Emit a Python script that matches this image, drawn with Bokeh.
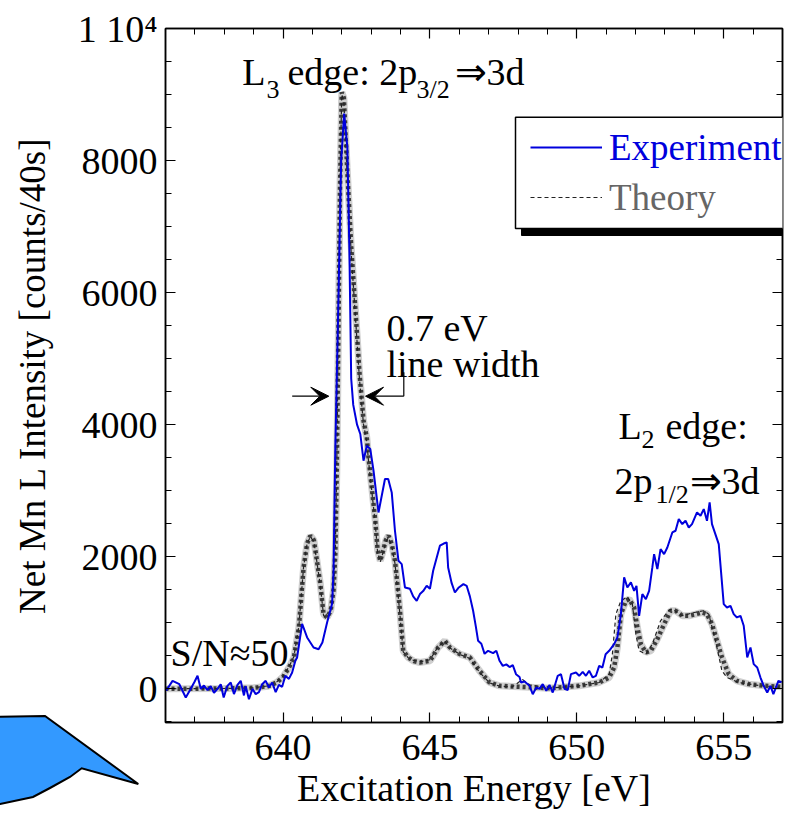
from bokeh.plotting import figure
from bokeh.layouts import column
from bokeh.models import (Range1d, LinearAxis, SingleIntervalTicker, Label, Arrow, VeeHead,
                          BoxAnnotation, Legend, LegendItem, CustomLabelingPolicy, Div)
from bokeh.embed import file_html
from bokeh.resources import INLINE

# ---------------- data ----------------
energy_exp = [636.02, 636.24, 636.47, 636.69, 636.86, 636.98, 637.09, 637.20, 637.31, 637.43,
              637.54, 637.65, 637.77, 637.88, 637.98, 638.10, 638.22, 638.33, 638.45, 638.56,
              638.67, 638.73, 638.84, 638.96, 639.07, 639.18, 639.29, 639.41, 639.52, 639.63,
              639.75, 639.86, 639.97, 640.08, 640.20, 640.31, 640.42, 640.48, 640.65, 640.82,
              641.04, 641.21, 641.34, 641.50, 641.67, 641.72, 641.78, 641.89, 641.98, 642.08,
              642.19, 642.26, 642.32, 642.39, 642.52, 642.63, 642.74, 642.85, 642.97, 643.08,
              643.25, 643.47, 643.58, 643.70, 643.81, 643.93, 644.04, 644.15, 644.32, 644.43,
              644.55, 644.66, 644.77, 644.89, 645.00, 645.11, 645.34, 645.47, 645.57, 645.62,
              645.74, 645.85, 645.97, 646.14, 646.25, 646.36, 646.47, 646.56, 646.64, 646.75,
              646.86, 646.98, 647.15, 647.26, 647.37, 647.48, 647.60, 647.71, 647.82, 647.93,
              648.05, 648.10, 648.22, 648.39, 648.50, 648.62, 648.73, 648.84, 648.96, 649.07,
              649.18, 649.35, 649.46, 649.58, 649.69, 649.80, 649.97, 650.08, 650.20, 650.31,
              650.42, 650.54, 650.65, 650.76, 650.87, 650.98, 651.10, 651.27, 651.38, 651.44,
              651.50, 651.61, 651.72, 651.84, 651.95, 652.03, 652.12, 652.23, 652.35, 652.46,
              652.57, 652.63, 652.74, 652.85, 652.97, 653.08, 653.25, 653.36, 653.47, 653.59,
              653.70, 653.81, 653.92, 654.09, 654.21, 654.32, 654.43, 654.52, 654.60, 654.83,
              655.00, 655.11, 655.23, 655.34, 655.45, 655.57, 655.68, 655.80, 655.91, 656.02,
              656.14, 656.25, 656.36, 656.48, 656.59, 656.69, 656.86, 656.97]
counts_exp = [-30, 121, 70, -131, 0, 100, 197, 0, 50, -20,
              40, -60, 0, 70, -131, 40, 96, -80, 60, 121,
              -100, 40, -157, 0, -80, -50, 70, 121, 20, 96,
              -50, 60, 30, 197, 150, 247, 424, 475, 985, 778,
              626, 600, 700, 1005, 1288, 1800, 3650, 6000, 8000, 8712,
              8200, 6600, 4700, 4300, 4000, 3859, 3455, 3682, 3631, 3303,
              2671, 3177, 3177, 2974, 2394, 1939, 1889, 1535, 1515, 1400,
              1333, 1435, 1480, 1560, 1515, 1788, 2167, 2200, 2217, 1838,
              1600, 1459, 1530, 1586, 1560, 1400, 1182, 950, 727, 682,
              530, 576, 540, 576, 424, 348, 370, 330, 360, 222,
              180, 96, 110, 45, -81, 20, 0, 71, -30, 60,
              -56, 197, 222, 0, -20, 222, 247, 197, 257, 197,
              273, 172, 197, 348, 323, 525, 576, 677, 778, 950,
              1131, 1687, 1535, 1611, 1485, 1560, 1106, 1434, 1359, 1485,
              1838, 2040, 1813, 2116, 2040, 2141, 2368, 2394, 2571, 2495,
              2545, 2444, 2495, 2672, 2621, 2722, 2545, 2823, 2495, 2192,
              1283, 1232, 1257, 1131, 1081, 1106, 955, 475, 626, 374,
              323, 171, 45, -56, 45, -81, 121, 100]

energy_theory_broad = [636.0, 638.0, 639.0, 639.5, 639.8, 640.0, 640.2, 640.37, 640.54, 640.7,
                       640.82, 640.93, 641.05, 641.15, 641.27, 641.38, 641.5, 641.62, 641.72, 641.78,
                       641.83, 641.88, 641.94, 642.0, 642.07, 642.18, 642.32, 642.47, 642.6, 642.74,
                       642.85, 642.91, 643.02, 643.14, 643.22, 643.31, 643.4, 643.5, 643.59, 643.7,
                       643.81, 643.9, 643.98, 644.09, 644.26, 644.45, 644.66, 645.0, 645.28, 645.51,
                       645.68, 646.02, 646.36, 646.69, 647.03, 647.37, 648.05, 649.07, 650.08, 650.76,
                       651.1, 651.27, 651.38, 651.5, 651.67, 651.78, 651.95, 652.06, 652.18, 652.35,
                       652.52, 652.74, 652.97, 653.19, 653.36, 653.59, 653.81, 654.04, 654.26, 654.43,
                       654.6, 654.77, 654.94, 655.17, 655.45, 655.85, 656.41, 657.0]
counts_theory_broad = [0, 5, 15, 40, 100, 180, 320, 475, 930, 1838,
                       2200, 2318, 2250, 1950, 1586, 1131, 1081, 1180, 1500, 2050,
                       3300, 5200, 7600, 9035, 8950, 7900, 6700, 5700, 4800, 4060,
                       3808, 3505, 3050, 2545, 2100, 1939, 2080, 2250, 2318, 2192,
                       1939, 1550, 1182, 576, 475, 420, 399, 424, 626, 727,
                       626, 525, 475, 272, 96, 45, 30, 10, 45, 96,
                       171, 323, 626, 1131, 1333, 1359, 1232, 929, 677, 550,
                       576, 753, 980, 1182, 1182, 1106, 1106, 1131, 1156, 1131,
                       980, 727, 475, 222, 121, 71, 45, 30]

energy_theory = [636.0, 638.0, 639.0, 639.5, 639.8, 640.0, 640.2, 640.37, 640.54, 640.7,
                 640.82, 640.93, 641.05, 641.15, 641.27, 641.38, 641.5, 641.62, 641.72, 641.78,
                 641.83, 641.88, 641.94, 642.0, 642.07, 642.18, 642.32, 642.47, 642.6, 642.74,
                 642.85, 642.91, 643.02, 643.14, 643.22, 643.31, 643.4, 643.5, 643.59, 643.7,
                 643.81, 643.9, 643.98, 644.09, 644.26, 644.45, 644.66, 645.0, 645.28, 645.51,
                 645.68, 646.02, 646.36, 646.69, 647.03, 647.37, 647.8, 648.15, 648.4, 649.07,
                 650.08, 650.76, 651.1, 651.21, 651.33, 651.5, 651.72, 651.89, 652.01, 652.12,
                 652.35, 652.57, 652.85, 653.14, 653.25, 653.59, 653.93, 654.32, 654.49, 654.72,
                 654.94, 655.11, 655.51, 656.19, 657.0]
counts_theory = [0, 5, 15, 45, 110, 190, 330, 490, 950, 1850,
                 2200, 2300, 2230, 1930, 1560, 1110, 1070, 1170, 1500, 2100,
                 3400, 5400, 7800, 9000, 8900, 7800, 6600, 5600, 4700, 4000,
                 3750, 3450, 3000, 2500, 2060, 1920, 2060, 2230, 2290, 2170,
                 1900, 1500, 1120, 560, 470, 430, 410, 440, 640, 720,
                 620, 520, 460, 250, 90, 40, 30, 140, 60, 10,
                 45, 96, 222, 525, 1131, 1333, 1394, 1283, 828, 576,
                 525, 677, 1030, 1192, 1207, 1106, 1150, 1182, 1131, 727,
                 272, 171, 96, 50, 20]

x_ticks_interval = 5
y_ticks_interval = 2000
y_top_label = "1 10\u2074"

# ---------------- layout constants ----------------
W, H = 798, 827
FL, FR, FT, FB = 165, 782, 28, 722
X0, X1 = 636.0, 657.0
Y0, Y1 = -510.0, 10000.0
FONT = "Liberation Serif"
FS = "38px"


def dx(px):
    return X0 + (px - FL) / (FR - FL) * (X1 - X0)


def dy(py):
    return Y0 + (FB - py) / (FB - FT) * (Y1 - Y0)


p = figure(width=W, height=H, x_range=Range1d(X0, X1), y_range=Range1d(Y0, Y1),
           output_backend="svg", toolbar_location=None,
           min_border_left=FL, min_border_right=W - FR, min_border_top=FT, min_border_bottom=H - FB)
p.xgrid.visible = False
p.ygrid.visible = False
p.outline_line_color = "black"
p.outline_line_width = 1.5
p.background_fill_color = "white"
p.border_fill_color = "white"

# curves
p.line(energy_theory_broad, counts_theory_broad, line_color="#cfcfcf", line_width=7)
p.line(energy_theory_broad, counts_theory_broad, line_color="#3c3c3c", line_width=4.5, line_dash="3 3")
r_th = p.line(energy_theory, counts_theory, line_color="#222222", line_width=1.2, line_dash="4 3")
r_exp = p.line(energy_exp, counts_exp, line_color="#0000dd", line_width=2)

hide_labels = CustomLabelingPolicy(code="""
try { for (const i of Array.from(indices)) { indices.unset(i) } } catch (e) {}
return indices
""")


def style_axis(ax, interval, minor, labels=True):
    ax.ticker = SingleIntervalTicker(interval=interval, num_minor_ticks=minor)
    ax.axis_line_width = 1.5
    ax.axis_line_color = "black"
    ax.major_tick_in = 10
    ax.major_tick_out = 0
    ax.minor_tick_in = 6
    ax.minor_tick_out = 0
    ax.major_tick_line_width = 1.2
    ax.minor_tick_line_width = 1.0
    ax.major_label_text_font = FONT
    ax.major_label_text_color = "black"
    ax.axis_label_text_font = FONT
    ax.axis_label_text_font_style = "normal"
    ax.axis_label_text_font_size = FS
    ax.axis_label_text_color = "black"
    if labels:
        ax.major_label_text_font_size = FS
    else:
        ax.major_label_text_font_size = "1px"
        ax.major_label_standoff = 0
        ax.major_label_policy = hide_labels


xa = p.xaxis[0]
style_axis(xa, x_ticks_interval, 5)
xa.axis_label = "Excitation Energy [eV]"
xa.major_label_standoff = 12
xa.axis_label_standoff = 4

ya = p.yaxis[0]
style_axis(ya, y_ticks_interval, 4)
ya.axis_label = "Net Mn L Intensity [counts/40s]"
ya.axis_label_text_font_size = "37px"
ya.major_label_standoff = 8
ya.axis_label_standoff = 22
ya.major_label_overrides = {10000: y_top_label}

top = LinearAxis()
style_axis(top, x_ticks_interval, 5, labels=False)
p.add_layout(top, "above")
right = LinearAxis()
style_axis(right, y_ticks_interval, 4, labels=False)
p.add_layout(right, "right")

# legend box with shadow (runs past the right frame edge like the original)
p.add_layout(BoxAnnotation(left=dx(521), right=dx(812), top=dy(122), bottom=dy(235),
                           fill_color="black", fill_alpha=1, line_color="black", line_alpha=1,
                           level="overlay"))
p.add_layout(BoxAnnotation(left=dx(515), right=dx(806), top=dy(116.7), bottom=dy(228),
                           fill_color="white", fill_alpha=1, line_color="black", line_width=1.5,
                           line_alpha=1, level="overlay"))

for item, color, cy in [("Experiment", "#0000dd", 146.7), ("Theory", "#666666", 196.7)]:
    rend = r_exp if item == "Experiment" else r_th
    lg = Legend(items=[LegendItem(label=item, renderers=[rend])],
                location=(530 - FL, FB - cy - 22), padding=0, margin=0, spacing=0,
                border_line_color=None, background_fill_alpha=0,
                glyph_width=72, glyph_height=30, label_height=30, label_standoff=7,
                label_text_font=FONT, label_text_font_size="37px", label_text_color=color,
                level="overlay")
    p.add_layout(lg)


def lab(text, px, py, size=FS):
    p.add_layout(Label(x=dx(px), y=dy(py), text=text, text_font=FONT, text_font_size=size,
                       text_color="black", text_align="left", text_baseline="alphabetic"))


SUB = "26px"
lab("L", 241.7, 71.7)
lab("3", 266, 89, SUB)
lab("edge: 2p", 287, 71.7)
lab("3/2", 416, 89, SUB)
lab("\u21d23d", 454, 71.7)

lab("0.7 eV", 386, 327)
lab("line width", 386, 363)

lab("L", 618, 425)
lab("2", 641, 439, SUB)
lab("edge:", 665, 425)
lab("2p", 614, 480)
lab("1/2", 655, 494, SUB)
lab("\u21d23d", 689, 480)

lab("S/N\u224850", 170, 652)

# line-width arrows
head = dict(size=18, fill_color="black", line_color="black", line_width=1)
p.add_layout(Arrow(end=VeeHead(**head), x_start=dx(291.7), y_start=dy(395.7),
                   x_end=dx(328.3), y_end=dy(395.7), line_width=1.2))
p.add_layout(Arrow(end=VeeHead(**head), x_start=dx(403.3), y_start=dy(395.7),
                   x_end=dx(365), y_end=dy(395.7), line_width=1.2))
p.add_layout(Arrow(end=None, x_start=dx(403.3), y_start=dy(395.7),
                   x_end=dx(403.3), y_end=dy(371.7), line_width=1.2))

# blue speech bubble in the lower-left margin (decoration outside the plot frame)
BX0, BY0, BW, BH = 0, 705, 145, 105
bubble_pts = [(-5, 716.7), (45, 716), (138.3, 784), (81.7, 768.3), (70, 777), (50, 788),
              (33, 797), (0, 804), (-5, 805)]
path = " ".join(f"{'M' if i == 0 else 'L'} {x - BX0:.1f} {y - BY0:.1f}"
                for i, (x, y) in enumerate(bubble_pts)) + " Z"
svg = (f'<svg width="{BW}" height="{BH}" style="display:block;overflow:visible">'
       f'<path d="{path}" fill="#3399ff" stroke="black" stroke-width="2" '
       f'stroke-linejoin="miter"/></svg>')
bubble = Div(text=svg, width=BW, height=BH,
             styles={"position": "absolute", "left": f"{BX0}px", "top": f"{BY0}px",
                     "z-index": "5", "margin": "0", "padding": "0"})

layout = column(p, bubble)
open("out.html", "w").write(file_html(layout, INLINE))
